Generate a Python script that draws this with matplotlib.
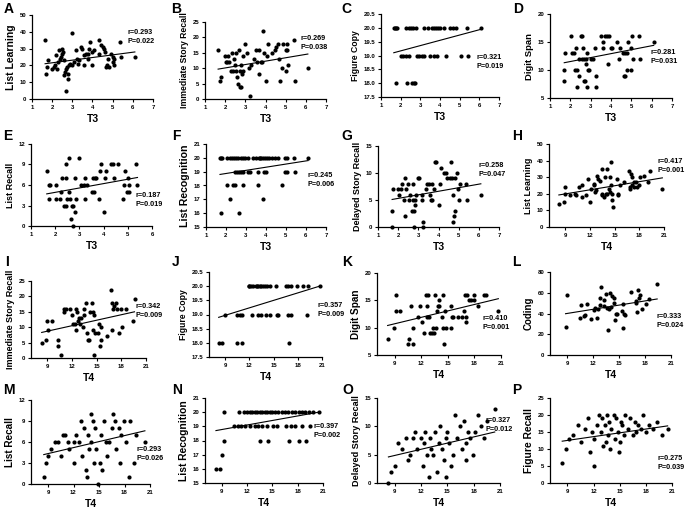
import matplotlib.pyplot as plt

plt.rcParams["font.family"] = ["Liberation Sans", "DejaVu Sans"]
plt.rcParams["font.weight"] = "bold"

# ---- data: (T value, score) pairs per panel ----
a_pts = [(1.65, 35), (1.7, 15), (1.75, 19), (1.8, 23), (2.0, 18), (2.1, 19), (2.15, 20), (2.2, 26),
         (2.25, 18), (2.3, 22), (2.35, 29), (2.4, 24), (2.45, 25), (2.5, 27), (2.5, 30), (2.55, 28),
         (2.6, 23), (2.6, 14), (2.65, 16), (2.7, 18), (2.7, 5), (2.75, 19), (2.8, 12), (2.8, 15),
         (2.85, 20), (3.0, 39), (3.0, 20), (3.1, 22), (3.2, 29), (3.25, 24), (3.3, 21), (3.45, 31),
         (3.5, 30), (3.6, 20), (3.6, 26), (3.7, 27), (3.8, 27), (3.8, 24), (3.85, 30), (3.9, 34),
         (4.0, 20), (4.0, 28), (4.05, 29), (4.3, 35), (4.3, 27), (4.4, 32), (4.5, 31), (4.55, 30),
         (4.6, 28), (4.65, 19), (4.7, 20), (4.75, 24), (4.8, 19), (4.9, 27), (5.0, 25), (5.0, 22),
         (5.05, 20), (5.05, 24), (5.35, 34), (5.4, 25), (6.1, 25), (3.35, 23), (2.9, 21)]
b_pts = [(1.65, 16), (1.75, 6), (1.8, 7), (2.0, 14), (2.05, 12), (2.1, 12), (2.15, 14), (2.2, 12),
         (2.3, 9), (2.35, 15), (2.4, 9), (2.45, 13), (2.5, 11), (2.55, 9), (2.55, 15), (2.6, 7),
         (2.65, 5), (2.7, 16), (2.75, 9), (2.75, 4), (2.8, 4), (2.8, 11), (2.85, 8), (2.9, 14),
         (2.9, 9), (3.0, 18), (3.1, 15), (3.2, 10), (3.25, 1), (3.3, 11), (3.45, 13), (3.55, 16),
         (3.6, 12), (3.7, 8), (3.7, 16), (3.8, 12), (3.85, 12), (3.9, 22), (3.95, 15), (4.0, 6),
         (4.05, 14), (4.1, 18), (4.3, 15), (4.45, 16), (4.5, 17), (4.6, 18), (4.65, 13), (4.7, 6),
         (4.8, 10), (4.85, 18), (5.0, 16), (5.05, 18), (5.05, 16), (5.0, 9), (5.1, 11), (5.4, 19),
         (5.45, 6), (6.1, 10)]
c_pts = [(1.65, 20), (1.7, 20), (1.75, 20), (1.8, 20), (2.25, 20), (2.4, 20), (2.5, 20), (2.65, 20),
         (2.8, 20), (3.2, 20), (3.4, 20), (3.6, 20), (3.7, 20), (3.8, 20), (3.9, 20), (4.0, 20),
         (4.2, 20), (4.5, 20), (4.65, 20), (4.8, 20), (5.35, 20), (6.1, 20),
         (2.0, 19), (2.1, 19), (2.25, 19), (2.4, 19), (2.85, 19), (2.95, 19), (3.1, 19), (3.2, 19),
         (3.5, 19), (3.7, 19), (3.85, 19), (4.3, 19), (5.05, 19), (5.4, 19),
         (1.75, 18), (2.3, 18), (2.6, 18), (2.7, 18), (2.75, 18)]
d_pts = [(1.7, 8), (1.7, 10), (1.75, 13), (2.05, 16), (2.1, 13), (2.2, 13), (2.25, 10), (2.3, 14),
         (2.35, 10), (2.35, 7), (2.45, 9), (2.45, 12), (2.5, 16), (2.55, 16), (2.55, 12), (2.6, 14),
         (2.65, 12), (2.65, 8), (2.7, 8), (2.75, 11), (2.75, 12), (2.8, 13), (2.8, 7), (2.85, 10),
         (2.9, 10), (3.0, 12), (3.1, 12), (3.2, 14), (3.25, 9), (3.25, 7), (3.5, 16), (3.6, 15),
         (3.6, 14), (3.7, 16), (3.8, 16), (3.85, 11), (3.9, 16), (4.0, 14), (4.05, 14), (4.3, 15),
         (4.4, 12), (4.45, 14), (4.6, 13), (4.65, 9), (4.7, 9), (4.8, 13), (4.85, 15), (4.8, 10),
         (5.0, 14), (5.0, 10), (5.1, 12), (5.05, 16), (5.4, 16), (5.45, 12), (6.1, 15), (4.7, 13)]
e_pts = [(1.65, 8), (1.75, 6), (1.75, 4), (1.8, 6), (2.05, 6), (2.05, 4), (2.2, 4), (2.25, 5),
         (2.3, 7), (2.35, 3), (2.45, 9), (2.45, 7), (2.45, 3), (2.55, 10), (2.55, 5), (2.6, 4),
         (2.65, 1), (2.7, 3), (2.75, 0), (2.75, 3), (2.8, 7), (2.8, 2), (2.85, 4), (3.0, 10),
         (3.05, 6), (3.2, 6), (3.25, 7), (3.25, 4), (3.5, 5), (3.55, 7), (3.6, 5), (3.65, 7),
         (3.7, 7), (3.8, 4), (3.85, 8), (3.9, 9), (4.0, 2), (4.05, 7), (4.1, 8), (4.3, 9),
         (4.4, 9), (4.45, 7), (4.6, 9), (4.8, 4), (4.85, 6), (4.9, 8), (4.95, 5), (5.0, 7),
         (5.05, 6), (5.05, 5), (5.35, 9), (5.4, 6), (3.3, 6), (2.5, 4)]
f_pts = [(1.7, 20), (1.75, 20), (1.8, 20), (2.05, 20), (2.2, 20), (2.3, 20), (2.4, 20), (2.5, 20),
         (2.6, 20), (2.75, 20), (2.85, 20), (2.95, 20), (3.1, 20), (3.35, 20), (3.5, 20), (3.65, 20),
         (3.7, 20), (3.75, 20), (3.85, 20), (3.95, 20), (4.05, 20), (4.15, 20), (4.3, 20), (4.45, 20),
         (4.6, 20), (4.95, 20), (5.05, 20), (5.4, 20), (6.1, 20),
         (2.45, 19), (2.55, 19), (2.65, 19), (2.75, 19), (2.85, 19), (3.1, 19), (3.2, 19), (3.6, 19),
         (3.9, 19), (4.0, 19), (4.95, 19), (5.05, 19), (5.45, 19),
         (2.05, 18), (2.35, 18), (2.45, 18), (2.85, 18), (3.6, 18), (4.8, 18),
         (2.2, 17), (3.85, 17), (1.75, 16), (2.65, 16)]
g_pts = [(1.7, 3), (1.7, 0), (1.75, 7), (2.0, 7), (2.05, 6), (2.15, 7), (2.2, 8), (2.3, 5),
         (2.35, 9), (2.35, 2), (2.4, 7), (2.5, 8), (2.55, 5), (2.6, 6), (2.7, 3), (2.75, 8),
         (2.75, 5), (2.8, 3), (2.8, 0), (2.85, 5), (2.85, 4), (2.9, 6), (3.0, 9), (3.05, 9),
         (3.2, 6), (3.2, 5), (3.25, 1), (3.25, 0), (3.4, 7), (3.45, 8), (3.55, 8), (3.6, 6),
         (3.65, 5), (3.7, 8), (3.7, 5), (3.8, 7), (3.85, 12), (3.9, 12), (4.0, 4), (4.05, 8),
         (4.1, 11), (4.25, 10), (4.35, 10), (4.4, 9), (4.55, 9), (4.6, 12), (4.65, 9), (4.7, 1),
         (4.75, 2), (4.8, 3), (4.8, 9), (4.9, 10), (4.95, 7), (5.0, 5), (5.05, 8), (5.35, 8),
         (5.4, 5), (6.1, 6), (4.7, 6)]
h_pts = [(8.2, 14), (8.8, 15), (9.0, 24), (9.0, 20), (9.5, 19), (10.2, 20), (10.3, 19), (10.7, 24),
         (11.0, 25), (11.0, 18), (11.5, 19), (11.8, 29), (12.0, 15), (12.1, 23), (12.5, 26), (12.5, 25),
         (12.6, 21), (12.7, 22), (12.9, 31), (13.0, 29), (13.2, 28), (13.4, 20), (13.5, 35), (13.5, 19),
         (13.7, 18), (13.8, 30), (13.9, 20), (14.0, 35), (14.0, 20), (14.3, 23), (14.4, 30), (14.4, 21),
         (14.5, 39), (14.6, 25), (14.7, 20), (14.7, 16), (14.8, 12), (15.3, 29), (15.4, 20), (15.4, 19),
         (15.6, 25), (16.1, 27), (16.7, 34), (16.8, 23), (16.9, 24), (17.0, 32), (17.1, 25), (17.1, 30),
         (17.3, 27), (17.4, 24), (17.6, 27), (17.7, 24), (17.9, 25), (18.1, 30), (18.6, 31), (19.1, 27),
         (19.3, 34), (20.8, 23)]
i_pts = [(8.3, 5), (8.8, 6), (9.0, 12), (9.1, 9), (9.5, 12), (10.3, 6), (10.3, 4), (10.7, 1),
         (11.0, 15), (11.0, 16), (11.3, 16), (11.7, 16), (12.0, 14), (12.1, 11), (12.3, 11), (12.5, 9),
         (12.5, 16), (12.6, 15), (12.7, 12), (12.9, 13), (13.0, 11), (13.1, 13), (13.3, 10), (13.5, 16),
         (13.5, 14), (13.7, 18), (13.8, 8), (13.9, 6), (14.1, 6), (14.2, 15), (14.4, 18), (14.5, 15),
         (14.6, 9), (14.7, 14), (14.8, 8), (14.7, 1), (15.3, 11), (15.4, 4), (15.5, 10), (15.5, 6),
         (16.3, 7), (16.7, 22), (16.8, 9), (16.9, 18), (17.0, 16), (17.1, 17), (17.3, 18), (17.5, 16),
         (17.7, 8), (18.0, 16), (18.1, 10), (18.6, 16), (19.4, 12), (19.6, 19), (15.2, 8)]
j_pts = [(11.9, 20), (12.0, 20), (12.2, 20), (12.5, 20), (12.8, 20), (13.0, 20), (13.1, 20), (13.3, 20),
         (13.5, 20), (13.7, 20), (13.9, 20), (14.2, 20), (14.5, 20), (15.3, 20), (16.5, 20), (16.8, 20),
         (17.2, 20), (17.9, 20), (18.6, 20), (19.3, 20), (20.7, 20),
         (9.0, 19), (10.5, 19), (10.8, 19), (11.1, 19), (12.3, 19), (13.1, 19), (13.5, 19), (14.0, 19),
         (14.5, 19), (15.4, 19), (15.6, 19), (16.8, 19), (17.2, 19), (19.2, 19),
         (8.2, 18), (8.6, 18), (10.5, 18), (11.1, 18), (16.9, 18)]
k_pts = [(8.2, 8), (8.9, 10), (9.2, 13), (9.2, 16), (9.6, 13), (10.5, 7), (10.6, 8), (10.8, 14),
         (11.1, 10), (11.1, 7), (11.6, 12), (11.9, 14), (12.1, 11), (12.3, 9), (12.5, 16), (12.6, 14),
         (12.6, 12), (12.8, 16), (12.9, 12), (13.0, 9), (13.2, 9), (13.3, 10), (13.4, 9), (13.5, 16),
         (13.7, 10), (13.8, 13), (13.9, 14), (14.0, 14), (14.0, 15), (14.3, 12), (14.4, 16), (14.5, 10),
         (14.6, 7), (14.7, 13), (14.8, 10), (15.5, 12), (15.4, 14), (15.4, 10), (15.6, 12), (16.1, 12),
         (16.6, 12), (16.8, 13), (16.9, 16), (17.0, 11), (17.0, 12), (17.2, 16), (17.4, 15), (17.6, 15),
         (17.9, 15), (18.0, 16), (18.4, 14), (19.1, 16), (19.3, 16), (20.7, 13)]
l_pts = [(8.8, 27), (9.0, 58), (10.5, 36), (10.6, 48), (10.9, 38), (11.1, 39), (11.3, 49), (11.8, 35),
         (12.1, 43), (12.2, 45), (12.4, 36), (12.6, 44), (12.8, 48), (12.8, 55), (12.9, 66), (13.2, 53),
         (13.3, 47), (13.5, 59), (13.6, 45), (13.7, 24), (13.8, 44), (13.9, 60), (14.0, 46), (14.2, 57),
         (14.4, 55), (14.4, 50), (14.5, 34), (14.6, 40), (14.8, 40), (15.3, 42), (15.4, 49), (15.5, 26),
         (15.6, 40), (15.7, 39), (16.4, 61), (16.9, 50), (17.0, 52), (17.1, 41), (17.2, 63), (17.3, 55),
         (17.4, 58), (17.6, 44), (18.1, 49), (18.5, 54), (19.4, 68)]
m_pts = [(8.5, 1), (8.8, 3), (9.0, 4), (9.3, 5), (9.8, 6), (10.2, 6), (10.5, 4), (10.8, 7),
         (11.0, 7), (11.3, 6), (11.5, 5), (12.0, 3), (12.3, 7), (12.6, 6), (12.9, 9), (13.0, 4),
         (13.2, 8), (13.5, 2), (13.6, 1), (13.8, 5), (14.0, 10), (14.1, 6), (14.3, 9), (14.4, 3),
         (14.5, 8), (14.7, 5), (14.9, 0), (15.1, 3), (15.2, 7), (15.4, 2), (15.6, 9), (15.9, 4),
         (16.2, 6), (16.5, 8), (16.7, 10), (16.9, 9), (17.0, 5), (17.3, 8), (17.5, 3), (17.6, 7),
         (17.9, 9), (18.2, 6), (18.5, 1), (19.1, 3), (19.3, 7), (20.4, 6), (12.0, 6), (13.7, 7),
         (15.8, 6), (18.7, 9)]
n_pts = [(8.3, 16), (8.8, 16), (9.0, 17),
         (9.2, 18), (13.5, 18), (14.5, 18), (17.0, 18), (18.2, 18), (19.0, 18),
         (10.4, 19), (10.9, 19), (11.3, 19), (11.8, 19), (12.3, 19), (12.9, 19), (13.3, 19), (13.8, 19),
         (14.3, 19), (15.1, 19), (15.5, 19), (16.6, 19), (17.2, 19), (17.7, 19), (18.5, 19), (19.5, 19),
         (9.3, 20), (11.0, 20), (11.6, 20), (12.0, 20), (12.3, 20), (12.6, 20), (12.9, 20), (13.2, 20),
         (13.5, 20), (13.8, 20), (14.1, 20), (14.4, 20), (14.7, 20), (15.0, 20), (15.3, 20), (15.7, 20),
         (16.1, 20), (16.5, 20), (16.9, 20), (17.3, 20), (17.7, 20), (18.1, 20), (18.5, 20), (18.9, 20),
         (19.3, 20), (19.8, 20), (20.5, 20)]
o_pts = [(8.3, 0), (8.6, 2), (9.0, 3), (9.4, 7), (9.8, 6), (10.3, 8), (10.5, 4), (10.8, 5),
         (11.1, 8), (11.3, 9), (11.6, 6), (12.0, 8), (12.2, 3), (12.4, 7), (12.7, 5), (12.9, 1),
         (13.0, 8), (13.2, 6), (13.4, 5), (13.6, 9), (13.8, 2), (14.0, 7), (14.2, 10), (14.4, 6),
         (14.6, 4), (14.8, 1), (15.0, 9), (15.2, 7), (15.4, 3), (15.6, 5), (15.9, 12), (16.1, 8),
         (16.4, 10), (16.7, 6), (16.9, 11), (17.1, 7), (17.4, 9), (17.6, 8), (17.9, 5), (18.2, 9),
         (18.5, 12), (18.8, 10), (19.2, 8), (19.5, 11), (20.4, 13), (12.5, 9), (14.9, 8), (17.1, 4)]
p_pts = [(8.4, 6), (8.8, 10), (9.2, 13), (9.6, 14), (10.2, 17), (10.6, 12), (11.0, 16), (11.4, 19),
         (11.6, 9), (12.0, 13), (12.1, 5), (12.4, 17), (12.6, 20), (12.8, 15), (13.0, 19), (13.1, 11),
         (13.3, 17), (13.5, 20), (13.6, 14), (13.8, 18), (13.9, 10), (14.0, 16), (14.3, 20), (14.5, 13),
         (14.6, 19), (14.8, 15), (14.9, 9), (15.1, 18), (15.3, 17), (15.5, 14), (15.6, 20), (15.9, 16),
         (16.2, 19), (16.5, 14), (16.7, 18), (16.9, 15), (17.1, 17), (17.4, 16), (17.7, 20), (18.0, 15),
         (18.4, 17), (18.8, 16), (19.3, 18), (19.8, 14), (20.5, 16), (13.4, 12), (11.8, 15), (15.0, 12)]

# fitted line: y at the smallest and largest T value
fit_ends = [(21.0, 28.0), (9.7, 14.6), (19.1, 19.95), (11.3, 14.4),
            (4.7, 7.1), (18.8, 19.8), (5.1, 8.0), (19.3, 29.6),
            (8.3, 15.0), (18.9, 20.0), (10.4, 15.3), (39.8, 54.0),
            (4.2, 7.6), (18.7, 20.0), (4.6, 9.0), (12.3, 16.8)]

letters = list("ABCDEFGHIJKLMNOP")
y_labels = ["List Learning", "Immediate Story Recall", "Figure Copy", "Digit Span",
            "List Recall", "List Recognition", "Delayed Story Recall", "List Learning",
            "Immediate Story Recall", "Figure Copy", "Digit Span", "Coding",
            "List Recall", "List Recognition", "Delayed Story Recall", "Figure Recall"]
x_labels = ["T3"] * 7 + ["T4"] * 9
r_values = ["0.293", "0.269", "0.321", "0.281", "0.187", "0.245", "0.258", "0.417",
            "0.342", "0.357", "0.410", "0.333", "0.293", "0.397", "0.327", "0.275"]
p_values = ["0.022", "0.038", "0.019", "0.031", "0.019", "0.006", "0.047", "0.001",
            "0.009", "0.009", "0.001", "0.024", "0.026", "0.002", "0.012", "0.039"]
y_ticks = [[0, 10, 20, 30, 40, 50], [0, 5, 10, 15, 20, 25],
           [17.5, 18.0, 18.5, 19.0, 19.5, 20.0, 20.5], [5, 10, 15, 20],
           [0, 3, 6, 9, 12], [15, 16, 17, 18, 19, 20, 21], [0, 5, 10, 15], [0, 10, 20, 30, 40, 50],
           [0, 5, 10, 15, 20, 25], [17.5, 18.0, 18.5, 19.0, 19.5, 20.0, 20.5], [5, 10, 15, 20],
           [0, 20, 40, 60, 80],
           [0, 3, 6, 9, 12], [15, 16, 17, 18, 19, 20, 21], [0, 5, 10, 15], [0, 5, 10, 15, 20, 25]]
t3_ticks = [1, 2, 3, 4, 5, 6, 7]
t3_ticks_e = [1, 2, 3, 4, 5, 6]
t4_ticks = [9, 12, 15, 18, 21]

all_pts = [a_pts, b_pts, c_pts, d_pts, e_pts, f_pts, g_pts, h_pts,
           i_pts, j_pts, k_pts, l_pts, m_pts, n_pts, o_pts, p_pts]

# ---- layout (pixels: left, top, right, bottom) ----
W, H = 685, 508
boxes = [(32, 15, 153, 99), (205, 22, 326, 99), (381, 14, 499, 97), (550, 14, 672, 98),
         (31, 144, 152, 226), (206, 144, 326, 227), (378, 146, 499, 227), (549, 144, 664, 227),
         (31, 281, 146, 358), (209, 272, 322, 357), (377, 273, 501, 355), (550, 272, 671, 355),
         (31, 400, 150, 484), (205, 398, 323, 483), (377, 398, 500, 483), (550, 398, 672, 483)]
text_pos = [(0.79, 0.83), (0.79, 0.83), (0.81, 0.52), (0.82, 0.58),
            (0.86, 0.41), (0.85, 0.66), (0.83, 0.80), (0.94, 0.83),
            (0.91, 0.72), (0.96, 0.65), (0.85, 0.49), (0.88, 0.51),
            (0.89, 0.45), (0.92, 0.71), (0.88, 0.78), (0.88, 0.33)]
letter_pos = [(4, 2), (171, 2), (341, 2), (513, 2), (3, 129), (172, 129), (341, 129), (512, 129),
              (5, 255), (172, 255), (342, 255), (512, 255), (3, 383), (172, 383), (342, 383), (512, 383)]
label_sizes = [7.5, 6.2, 6.2, 6.8, 6.5, 7.6, 6.5, 6.4, 6.5, 6.2, 7.2, 7.0, 7.2, 7.4, 6.6, 7.4]

fig = plt.figure(figsize=(6.85, 5.08), dpi=100)

for k in range(16):
    l, t, r, b = boxes[k]
    ax = fig.add_axes([l / W, 1 - b / H, (r - l) / W, (b - t) / H])
    xs = [p[0] for p in all_pts[k]]
    ys = [p[1] for p in all_pts[k]]
    ax.scatter(xs, ys, s=9, color="black", linewidths=0, clip_on=False, zorder=3)
    ax.plot([min(xs), max(xs)], fit_ends[k], color="black", lw=0.8)

    if x_labels[k] == "T3":
        xt = t3_ticks_e if k == 4 else t3_ticks
        ax.set_xlim(xt[0], xt[-1])
    else:
        xt = t4_ticks
        ax.set_xlim(7, 21)
    ax.set_xticks(xt)
    ax.set_yticks(y_ticks[k])
    ax.set_ylim(y_ticks[k][0], y_ticks[k][-1])
    if k in (2, 9):
        ax.set_yticklabels([f"{v:.1f}" for v in y_ticks[k]])

    for s in ("top", "right"):
        ax.spines[s].set_visible(False)
    for s in ("left", "bottom"):
        ax.spines[s].set_linewidth(0.9)
    ax.tick_params(direction="out", length=2.5, width=0.8, labelsize=4.3, pad=1.5)
    for lab in ax.get_xticklabels() + ax.get_yticklabels():
        lab.set_fontweight("bold")

    ax.set_xlabel(x_labels[k], fontsize=7.5, fontweight="bold", labelpad=3)
    ax.set_ylabel(y_labels[k], fontsize=label_sizes[k], fontweight="bold", labelpad=3)

    tx, ty = text_pos[k]
    ax.text(tx, ty, f"r={r_values[k]}\nP={p_values[k]}", transform=ax.transAxes,
            fontsize=5.2, fontweight="bold", va="top", ha="left", linespacing=1.4)

    lx, ly = letter_pos[k]
    fig.text(lx / W, 1 - ly / H, letters[k], fontsize=10, fontweight="bold", va="top", ha="left")

plt.savefig("out.png", dpi=100)
